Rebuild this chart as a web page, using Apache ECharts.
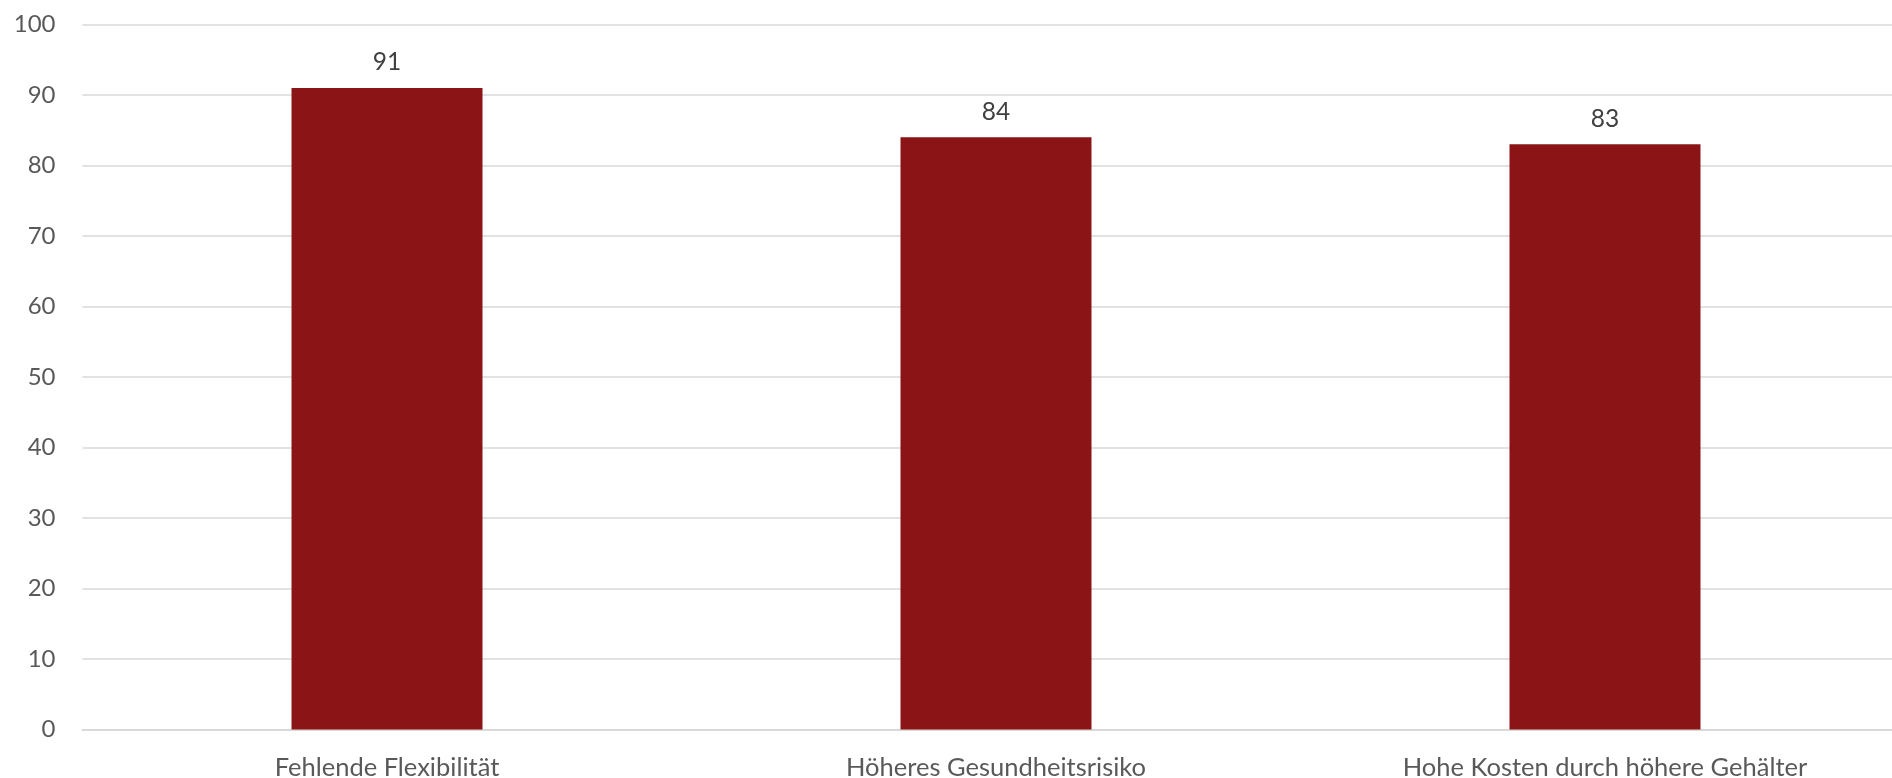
<!DOCTYPE html>
<html><head><meta charset="utf-8">
<script src="https://cdn.jsdelivr.net/npm/echarts@6/dist/echarts.min.js"></script>
<style>html,body{margin:0;padding:0;background:#fff}#c{width:1892px;height:778px}</style>
</head><body><div id="c"></div>
<script>
const categories = ["Fehlende Flexibilität", "Höheres Gesundheitsrisiko", "Hohe Kosten durch höhere Gehälter"];
const values = [91, 84, 83];
const yTicks = [0, 10, 20, 30, 40, 50, 60, 70, 80, 90, 100];

const chart = echarts.init(document.getElementById('c'), null, {renderer: 'canvas'});
const font = 'Lato, "Open Sans", sans-serif';
chart.setOption({
  animation: false,
  grid: {left: 82.5, width: 1827, top: 24.5, height: 705, containLabel: false, outerBoundsMode: 'none'},
  xAxis: {
    type: 'category', data: categories,
    axisLine: {show: true, lineStyle: {color: '#d9d9d9', width: 2}},
    axisTick: {show: false},
    axisLabel: {color: '#595959', fontSize: 25.5, fontFamily: font, margin: 25}
  },
  yAxis: {
    type: 'value', min: yTicks[0], max: yTicks[yTicks.length - 1], interval: 10,
    axisLine: {show: false}, axisTick: {show: false},
    splitLine: {lineStyle: {color: '#d9d9d9', width: 1.5}},
    axisLabel: {color: '#595959', fontSize: 24, fontFamily: font, margin: 27}
  },
  series: [{
    type: 'bar', data: values, barWidth: 191,
    itemStyle: {color: '#8B1416'},
    label: {show: true, position: 'top', distance: 13, color: '#404040', fontSize: 24.5, fontFamily: font}
  }]
});
</script></body></html>
